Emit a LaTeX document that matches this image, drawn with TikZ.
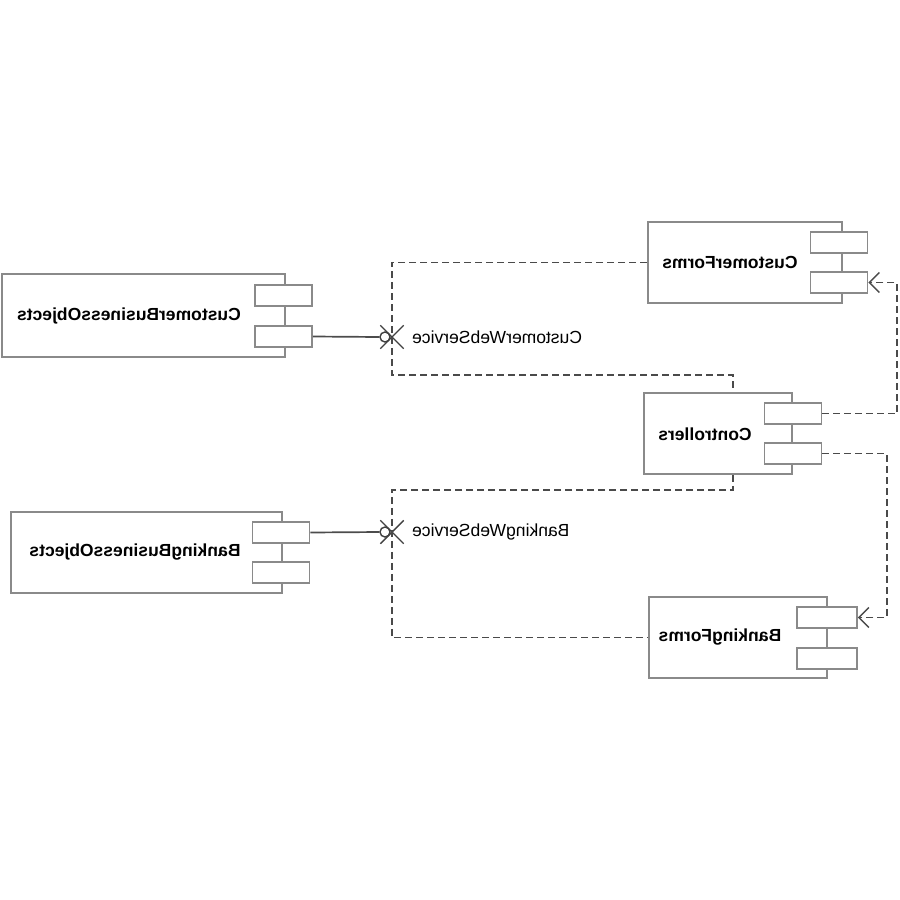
\documentclass[tikz,border=0pt]{standalone}
\usepackage{graphicx}
\usepackage{fontspec}
\setmainfont{Liberation Sans}
\usetikzlibrary{arrows.meta,shapes.misc}
\definecolor{boxgray}{HTML}{8A8A8A}
\definecolor{linegray}{HTML}{4A4A4A}
\tikzset{
    component/.style = {draw=boxgray, fill=white, line width=1.6pt, rectangle, minimum height=81pt},
    comp-tab/.style = {draw=boxgray, fill=white, line width=1.6pt, rectangle, minimum width=57pt, minimum height=21pt},
    comp-name/.style = {font=\fontsize{17.5}{20}\selectfont\bfseries, inner sep=0pt},
    iface-ball/.style = {draw=black!75, fill=white, line width=1.4pt, circle, minimum size=10pt, inner sep=0pt},
    iface-cross/.style = {draw=black!75, line width=1.4pt, cross out, minimum size=22pt, inner sep=0pt},
    iface-name/.style = {font=\fontsize{17.5}{20}\selectfont, anchor=west, inner sep=0pt},
    wire/.style = {draw=black!70, line width=1.7pt},
    dep/.style = {draw=linegray, line width=1.8pt, dash pattern=on 7pt off 4pt},
    dep-arrow/.style = {dep, -{Straight Barb[length=10pt,width=20pt,line width=1.5pt]}},
}

\begin{document}
\begin{tikzpicture}[x=1pt,y=-1pt]
\useasboundingbox (0,0) rectangle (900,900);

% components
\node [component, minimum width=283pt, minimum height=83pt] (cbo) at (143.5,315.5) {};
\node [comp-tab] (cbo-t1) at (283.5,295.5) {};
\node [comp-tab] (cbo-t2) at (283.5,336.5) {};
\node [comp-name] (cbo-name) at (129,316) {\reflectbox{CustomerBusinessObjects}};

\node [component, minimum width=271pt] (bbo) at (146.5,552.5) {};
\node [comp-tab] (bbo-t1) at (281,532.5) {};
\node [comp-tab] (bbo-t2) at (281,572.5) {};
\node [comp-name] (bbo-name) at (135,552) {\reflectbox{BankingBusinessObjects}};

\node [component, minimum width=194pt] (cf) at (745,262.5) {};
\node [comp-tab] (cf-t1) at (839,242.5) {};
\node [comp-tab] (cf-t2) at (839,282.5) {};
\node [comp-name] (cf-name) at (730,262) {\reflectbox{CustomerForms}};

\node [component, minimum width=148pt] (ctrl) at (718,433.5) {};
\node [comp-tab] (ctrl-t1) at (793,413.5) {};
\node [comp-tab] (ctrl-t2) at (793,453.5) {};
\node [comp-name] (ctrl-name) at (705,434) {\reflectbox{Controllers}};

\node [component, minimum width=178pt] (bf) at (738,637.5) {};
\node [comp-tab, minimum width=60pt] (bf-t1) at (827,617.5) {};
\node [comp-tab, minimum width=60pt] (bf-t2) at (827,658.5) {};
\node [comp-name] (bf-name) at (720,637) {\reflectbox{BankingForms}};

% provided interfaces
\node [iface-ball] (cws) at (385,337) {};
\node [iface-cross] (cws-x) at (392,337) {};
\node [iface-name] (cws-name) at (412,337) {\reflectbox{CustomerWebService}};
\draw [wire] (cbo-t2.east) -- (cws.west);

\node [iface-ball] (bws) at (385,532) {};
\node [iface-cross] (bws-x) at (392,532) {};
\node [iface-name] (bws-name) at (412,532) {\reflectbox{BankingWebService}};
\draw [wire] (bbo-t1.east) -- (bws.west);

% dependencies
\draw [dep] (cf.west) -| (cws-x.center) |- (392,375) -| ([xshift=15pt]ctrl.north);
\draw [dep] ([xshift=15pt]ctrl.south) |- (392,490) -- (bws-x.center) |- (bf.west);
\draw [dep-arrow] (ctrl-t1.east) -| ([xshift=29pt]cf-t2.east) -- (cf-t2.east);
\draw [dep-arrow] (ctrl-t2.east) -| ([xshift=29pt]bf-t1.east) -- (bf-t1.east);
\end{tikzpicture}
\end{document}
